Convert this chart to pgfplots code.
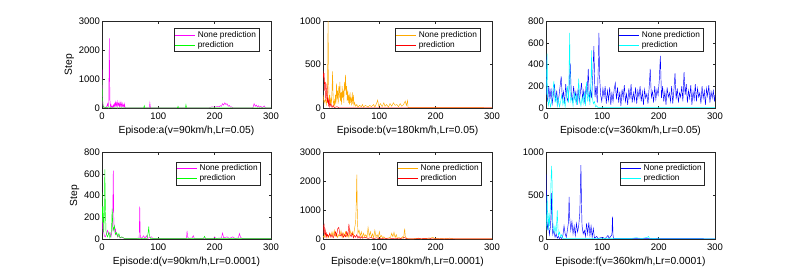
\documentclass[border=0pt]{standalone}
\usepackage{pgfplots}
\pgfplotsset{compat=1.18}
\usepackage{fontspec}
\setmainfont{Liberation Sans}
\definecolor{cmag}{RGB}{255,0,255}
\definecolor{cgrn}{RGB}{0,255,0}
\definecolor{corg}{RGB}{255,170,0}
\definecolor{cred}{RGB}{255,0,0}
\definecolor{cblu}{RGB}{0,0,255}
\definecolor{ccya}{RGB}{0,255,255}
\definecolor{axgray}{RGB}{38,38,38}
\pgfplotsset{
  mstyle/.style={
    scale only axis, width=169pt, height=87pt, anchor=south west,
    xmin=0, xmax=300, ymin=0,
    xtick={0,100,200,300},
    tick align=inside, major tick length=2.5pt,
    axis line style={axgray, line width=0.4pt},
    every tick/.style={axgray, line width=0.4pt},
    tick label style={font=\fontsize{9.5}{10}\selectfont},
    xticklabel style={yshift=-1pt},
    yticklabel style={xshift=1.5pt},
    label style={font=\fontsize{10.3}{11}\selectfont},
    /pgf/number format/assume math mode=true,
    /pgf/number format/1000 sep={},
    scaled y ticks=false,
    ylabel style={yshift=-2pt},
    legend style={font=\fontsize{8.3}{9}\selectfont, draw=axgray, line width=0.4pt,
      legend cell align=left, inner sep=1pt, row sep=-1.5pt,
      at={(0.93,0.92)}, anchor=north east},
    every axis plot/.append style={line width=0.45pt, mark=none},
  }
}
\newcommand{\lgline}[1]{\addlegendimage{#1, line width=0.8pt, legend image code/.code={\draw[#1, line width=0.8pt] (0pt,0pt) -- (20pt,0pt);}}}
\begin{document}
\begin{tikzpicture}
\path[use as bounding box] (0,0) rectangle (789pt,277pt);
% (a)
\begin{axis}[mstyle, at={(102pt,169pt)}, ymax=3000, ytick={0,1000,2000,3000},
  xlabel={Episode:a(v=90km/h,Lr=0.05)}, ylabel={Step}]
\addplot[cmag, forget plot] coordinates {(0,1350)(1,200)(2,50)(3,20)(5,30)(7,10)(9,80)(10,150)(11,30)(12,200)(13,2400)(14,300)(15,50)(16,120)(17,20)(18,60)(19,10)(20,100)(21,30)(22,150)(23,50)(24,200)(25,80)(26,180)(27,30)(28,220)(29,100)(30,160)(31,40)(32,200)(33,70)(34,180)(35,30)(36,150)(37,60)(38,120)(39,20)(40,140)(41,10)(42,5)(50,5)(60,3)(84,5)(85,180)(86,5)(100,3)(190,5)(195,40)(200,30)(205,50)(208,40)(210,80)(212,60)(214,150)(216,100)(218,180)(220,120)(222,150)(224,60)(226,90)(228,30)(230,40)(232,5)(260,3)(268,10)(270,150)(272,60)(274,100)(276,30)(278,80)(280,20)(282,60)(284,10)(288,70)(290,5)(300,3)};
\addplot[cgrn, forget plot] coordinates {(0,1000)(1,300)(2,80)(3,20)(5,30)(8,10)(12,40)(15,10)(20,5)(74,5)(75,80)(76,5)(134,3)(135,60)(136,3)(148,5)(149,120)(150,20)(151,3)(300,2)};
\lgline{cmag}\addlegendentry{None prediction}
\lgline{cgrn}\addlegendentry{prediction}
\end{axis}
% (b)
\begin{axis}[mstyle, at={(323pt,169pt)}, ymax=1000, ytick={0,500,1000},
  xlabel={Episode:b(v=180km/h,Lr=0.05)}]
\addplot[corg, forget plot] coordinates {(0,150)(2,60)(4,100)(6,40)(8,200)(9,1000)(10,300)(11,80)(12,150)(13,30)(14,100)(15,60)(16,200)(17,420)(18,100)(19,30)(20,80)(21,20)(22,150)(23,50)(24,280)(25,100)(26,200)(27,50)(28,250)(29,120)(30,300)(31,80)(32,180)(33,40)(34,250)(35,120)(36,200)(37,60)(38,300)(39,200)(40,380)(41,150)(42,250)(43,80)(44,200)(45,60)(46,150)(47,40)(48,180)(49,60)(50,120)(51,30)(52,180)(53,50)(54,150)(55,30)(56,60)(58,20)(60,40)(62,10)(65,30)(68,15)(70,40)(72,10)(75,30)(78,20)(80,10)(83,30)(86,15)(90,40)(92,10)(95,50)(97,90)(99,20)(102,50)(105,15)(108,60)(110,20)(113,40)(116,10)(119,50)(122,20)(125,60)(128,30)(131,40)(134,15)(137,50)(140,20)(143,40)(146,80)(148,30)(150,85)(151,5)(300,3)};
\addplot[cred, forget plot] coordinates {(0,430)(1,350)(2,400)(3,200)(4,300)(5,80)(6,150)(7,280)(8,60)(9,120)(10,20)(11,100)(12,10)(14,50)(16,5)(18,30)(20,5)(25,15)(28,3)(300,3)};
\lgline{corg}\addlegendentry{None prediction}
\lgline{cred}\addlegendentry{prediction}
\end{axis}
% (c)
\begin{axis}[mstyle, at={(546pt,169pt)}, ymax=800, ytick={0,200,400,600,800},
  xlabel={Episode:c(v=360km/h,Lr=0.05)}]
\addplot[cblu, forget plot] coordinates {(0,480)(1,150)(3,60)(5,200)(7,80)(9,180)(11,40)(13,120)(15,220)(17,60)(19,160)(21,30)(23,110)(25,200)(27,290)(29,80)(31,150)(33,40)(35,220)(37,100)(39,60)(41,180)(43,410)(45,120)(47,60)(49,200)(51,90)(53,150)(55,30)(57,180)(59,60)(61,140)(63,230)(65,80)(67,160)(69,40)(71,200)(73,120)(75,360)(77,60)(79,170)(81,90)(83,300)(85,570)(87,100)(89,200)(91,50)(93,420)(94,690)(95,300)(97,120)(99,60)(101,180)(103,100)(105,200)(107,40)(109,160)(111,70)(113,190)(115,30)(117,140)(119,60)(121,170)(123,230)(125,80)(127,190)(129,50)(131,150)(133,20)(135,170)(137,90)(139,210)(141,60)(143,130)(145,30)(147,180)(149,80)(151,220)(153,50)(155,140)(157,70)(159,190)(161,40)(163,160)(165,100)(167,200)(169,60)(171,150)(173,30)(175,170)(177,90)(179,130)(181,40)(183,180)(185,360)(187,100)(189,150)(191,50)(193,200)(195,80)(197,170)(199,120)(201,250)(203,480)(205,90)(207,200)(209,60)(211,150)(213,30)(215,190)(217,100)(219,140)(221,60)(223,200)(225,40)(227,160)(229,320)(231,80)(233,180)(235,50)(237,140)(239,100)(241,200)(243,60)(245,330)(247,120)(249,220)(251,50)(253,160)(255,90)(257,210)(259,30)(261,150)(263,80)(265,220)(267,60)(269,180)(271,100)(273,140)(275,40)(277,200)(279,90)(281,160)(283,30)(285,180)(287,110)(289,210)(291,50)(293,150)(295,90)(297,160)(299,60)(300,120)};
\addplot[ccya, forget plot] coordinates {(0,120)(1,300)(2,500)(3,100)(4,20)(6,80)(8,10)(10,60)(12,150)(14,250)(16,50)(18,120)(20,20)(22,90)(24,10)(26,60)(28,120)(30,30)(32,80)(34,10)(36,100)(38,200)(40,50)(42,690)(43,150)(44,60)(46,100)(48,20)(50,150)(52,60)(54,120)(56,30)(58,270)(60,80)(62,20)(64,100)(66,40)(68,150)(70,20)(72,240)(74,60)(76,150)(78,30)(80,300)(81,530)(82,100)(84,40)(86,60)(88,10)(90,20)(92,5)(300,5)};
\lgline{cblu}\addlegendentry{None prediction}
\lgline{ccya}\addlegendentry{prediction}
\end{axis}
% (d)
\begin{axis}[mstyle, at={(102pt,38pt)}, ymax=800, ytick={0,200,400,600,800},
  xlabel={Episode:d(v=90km/h,Lr=0.0001)}, ylabel={Step}, legend style={at={(0.94,0.89)}}]
\addplot[cmag, forget plot] coordinates {(0,50)(1,300)(2,100)(4,30)(6,20)(8,50)(10,80)(12,40)(14,60)(16,20)(18,80)(19,200)(20,630)(21,150)(22,110)(23,60)(24,90)(25,40)(26,50)(28,20)(30,30)(32,10)(35,15)(40,5)(60,5)(66,10)(67,300)(68,20)(70,5)(74,30)(76,5)(79,30)(81,5)(88,20)(90,5)(150,5)(151,75)(152,20)(154,5)(160,10)(162,30)(164,5)(198,5)(200,20)(202,5)(212,10)(214,55)(216,10)(222,20)(226,5)(232,20)(236,5)(242,10)(244,50)(246,15)(250,3)(300,3)};
\addplot[cgrn, forget plot] coordinates {(0,430)(1,150)(2,300)(3,60)(4,200)(5,640)(6,300)(7,80)(8,40)(10,20)(12,60)(14,10)(16,40)(17,100)(18,280)(19,150)(20,80)(22,120)(24,40)(26,60)(28,20)(30,50)(32,10)(35,20)(40,5)(80,5)(82,60)(83,115)(84,40)(86,5)(180,5)(182,25)(184,3)(300,3)};
\lgline{cmag}\addlegendentry{None prediction}
\lgline{cgrn}\addlegendentry{prediction}
\end{axis}
% (e)
\begin{axis}[mstyle, at={(323pt,38pt)}, ymax=3000, ytick={0,1000,2000,3000},
  xlabel={Episode:e(v=180km/h,Lr=0.0001)}, legend style={at={(0.94,0.89)}}]
\addplot[corg, forget plot] coordinates {(0,100)(2,50)(4,200)(6,80)(8,150)(10,50)(12,200)(14,100)(16,250)(18,80)(20,300)(22,100)(24,200)(26,50)(28,150)(30,100)(32,280)(34,50)(36,200)(38,100)(40,250)(42,80)(44,200)(46,50)(48,300)(50,150)(52,250)(54,100)(56,350)(58,600)(59,1200)(60,2220)(61,800)(62,200)(64,300)(66,100)(68,250)(70,50)(72,200)(74,80)(76,150)(78,50)(80,400)(82,100)(84,250)(86,60)(88,180)(90,40)(92,300)(94,80)(96,150)(98,40)(100,250)(102,60)(104,120)(106,30)(108,80)(110,20)(115,30)(120,60)(122,200)(124,80)(126,230)(128,50)(130,150)(132,20)(135,50)(138,20)(141,80)(143,30)(145,360)(146,100)(148,30)(150,10)(160,5)(170,30)(172,5)(190,20)(195,60)(198,10)(210,20)(215,5)(225,30)(230,10)(240,5)(300,3)};
\addplot[cred, forget plot] coordinates {(0,200)(1,460)(2,500)(3,150)(4,300)(5,100)(6,200)(7,50)(8,150)(10,80)(12,200)(14,60)(16,150)(18,40)(20,120)(22,250)(24,100)(26,350)(28,400)(30,150)(32,100)(34,200)(36,60)(38,150)(40,80)(42,250)(44,100)(46,520)(47,300)(48,150)(50,80)(52,200)(54,40)(56,120)(58,60)(60,150)(62,30)(64,100)(66,20)(68,80)(70,30)(75,60)(80,20)(85,50)(90,15)(95,40)(100,10)(110,30)(115,5)(130,20)(135,5)(145,50)(148,10)(160,5)(190,30)(192,5)(300,3)};
\lgline{corg}\addlegendentry{None prediction}
\lgline{cred}\addlegendentry{prediction}
\end{axis}
% (f)
\begin{axis}[mstyle, at={(546pt,38pt)}, ymax=1000, ytick={0,500,1000},
  xlabel={Episode:f(v=360km/h,Lr=0.0001)}, legend style={at={(0.94,0.89)}}]
\addplot[cblu, forget plot] coordinates {(0,750)(1,350)(2,100)(4,200)(6,50)(8,150)(9,300)(10,530)(11,200)(12,50)(14,100)(16,20)(18,60)(20,10)(22,30)(24,5)(26,20)(28,5)(30,40)(32,150)(34,60)(36,20)(38,100)(40,200)(41,485)(42,250)(44,100)(46,200)(48,60)(50,150)(52,40)(54,180)(56,80)(58,150)(60,300)(62,850)(63,400)(64,150)(66,60)(68,100)(70,30)(72,180)(74,60)(76,190)(78,40)(80,150)(82,20)(84,120)(86,10)(90,30)(92,5)(100,20)(105,5)(110,40)(112,5)(117,50)(118,256)(119,40)(120,5)(300,3)};
\addplot[ccya, forget plot] coordinates {(0,100)(1,200)(2,500)(3,250)(4,100)(5,300)(6,150)(8,400)(9,700)(10,840)(11,600)(12,200)(14,80)(16,150)(18,60)(20,330)(21,150)(22,40)(24,80)(26,20)(28,50)(30,5)(150,5)(160,15)(170,5)(180,20)(182,30)(184,5)(200,10)(202,3)(300,3)};
\lgline{cblu}\addlegendentry{None prediction}
\lgline{ccya}\addlegendentry{prediction}
\end{axis}
\end{tikzpicture}
\end{document}
